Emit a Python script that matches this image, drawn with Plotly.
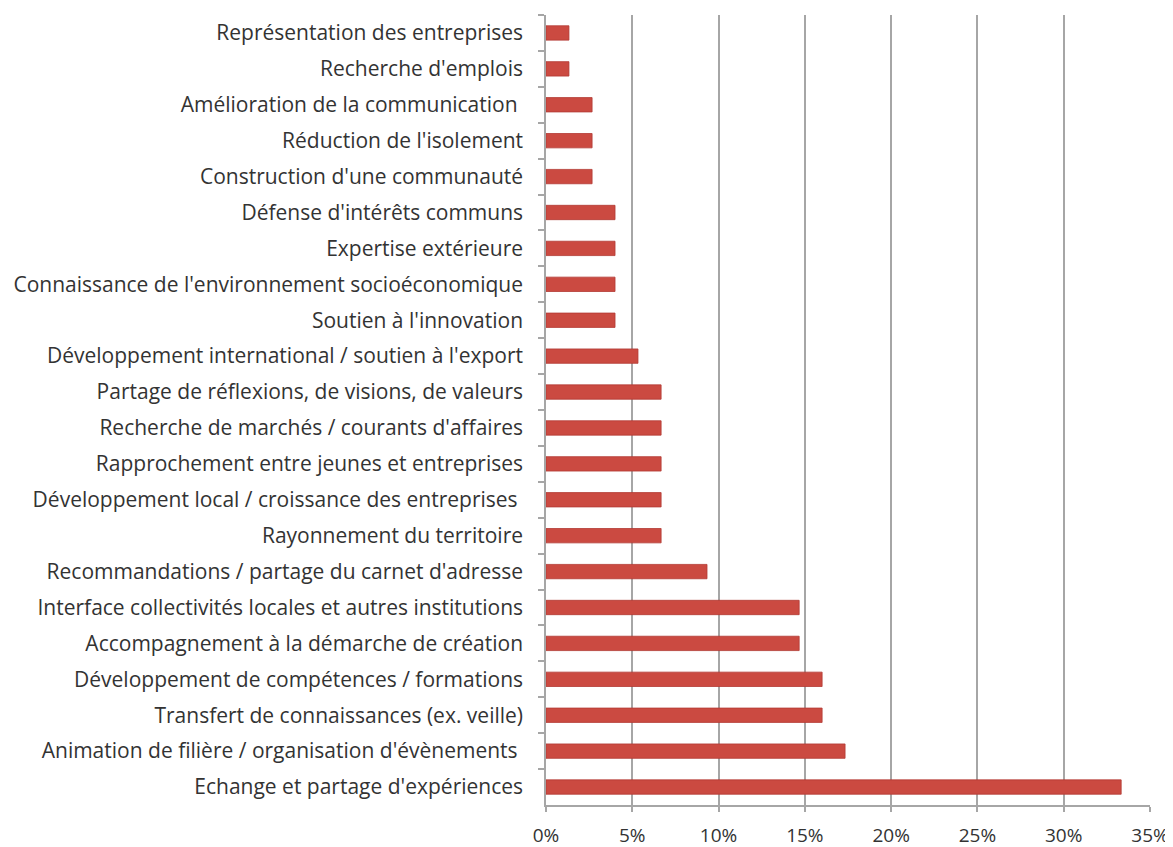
import plotly.graph_objects as go

categories = [
    "Représentation des entreprises",
    "Recherche d'emplois",
    "Amélioration de la communication\u00a0",
    "Réduction de l'isolement",
    "Construction d'une communauté",
    "Défense d'intérêts communs",
    "Expertise extérieure",
    "Connaissance de l'environnement socioéconomique",
    "Soutien à l'innovation",
    "Développement international / soutien à l'export",
    "Partage de réflexions, de visions, de valeurs",
    "Recherche de marchés / courants d'affaires",
    "Rapprochement entre jeunes et entreprises",
    "Développement local / croissance des entreprises\u00a0",
    "Rayonnement du territoire",
    "Recommandations / partage du carnet d'adresse",
    "Interface collectivités locales et autres institutions",
    "Accompagnement à la démarche de création",
    "Développement de compétences / formations",
    "Transfert de connaissances (ex. veille)",
    "Animation de filière / organisation d'évènements\u00a0",
    "Echange et partage d'expériences",
]
values = [1.33, 1.33, 2.67, 2.67, 2.67, 4.0, 4.0, 4.0, 4.0, 5.33,
          6.67, 6.67, 6.67, 6.67, 6.67, 9.33, 14.67, 14.67, 16.0, 16.0,
          17.33, 33.33]
x_ticks = [0, 5, 10, 15, 20, 25, 30, 35]
x_tick_labels = ["0%", "5%", "10%", "15%", "20%", "25%", "30%", "35%"]

fig = go.Figure(go.Bar(
    y=categories, x=values, orientation="h",
    marker=dict(color="#CB4A41", line=dict(color="#B23A33", width=0.8)),
))

# page body has an 8px margin, so the figure is sized to fit the window
fig.update_layout(
    width=1165, height=839,
    margin=dict(l=538, r=23, t=7, b=42),
    paper_bgcolor="white", plot_bgcolor="white",
    bargap=0.6,
    showlegend=False,
    font=dict(family="Open Sans, Noto Sans, sans-serif", size=21, color="#333333"),
)
fig.update_xaxes(
    range=[0, 35], tickvals=x_ticks, ticktext=x_tick_labels,
    tickfont=dict(size=19),
    showgrid=True, gridcolor="#A6A6A6", gridwidth=1.5,
    showline=True, linecolor="#A6A6A6", linewidth=1.5,
    ticks="outside", ticklen=5, tickcolor="#A6A6A6", tickwidth=1.5,
    ticklabelstandoff=7, automargin=False,
    zeroline=False, mirror=False, fixedrange=True,
)
fig.update_yaxes(
    autorange="reversed", type="category",
    showgrid=False, showline=True, linecolor="#A6A6A6", linewidth=1.5,
    ticks="outside", tickson="boundaries", ticklen=6, tickcolor="#A6A6A6", tickwidth=1.5,
    ticklabelstandoff=17, automargin=False,
)

fig.write_html("out.html")
